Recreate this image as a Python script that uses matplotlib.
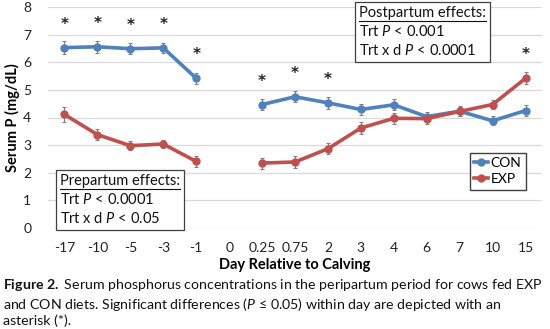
"""Serum phosphorus around calving, CON vs EXP diets."""

import matplotlib

matplotlib.use("Agg")

from matplotlib import pyplot as plt
from matplotlib.lines import Line2D
import numpy as np

plt.rcParams["font.family"] = ["Lato", "DejaVu Sans"]
plt.rcParams["mathtext.fontset"] = "custom"
plt.rcParams["mathtext.rm"] = "Lato"
plt.rcParams["mathtext.it"] = "Lato:italic"
plt.rcParams["mathtext.bf"] = "Lato:bold"

days = ["-17", "-10", "-5", "-3", "-1", "0", "0.25", "0.75", "2", "3", "4", "6", "7", "10", "15"]
# None at day 0 -> gap between pre- and postpartum
con = [6.53, 6.56, 6.49, 6.52, 5.42, None, 4.47, 4.75, 4.53, 4.29, 4.46, 4.03, 4.23, 3.88, 4.25]
con_se = [0.23, 0.21, 0.19, 0.17, 0.19, None, 0.21, 0.2, 0.21, 0.2, 0.2, 0.17, 0.17, 0.16, 0.2]
exp = [4.11, 3.38, 2.98, 3.04, 2.41, None, 2.35, 2.39, 2.87, 3.62, 3.97, 3.96, 4.22, 4.47, 5.42]
exp_se = [0.27, 0.19, 0.17, 0.15, 0.19, None, 0.2, 0.2, 0.2, 0.2, 0.2, 0.18, 0.15, 0.15, 0.21]
significant = ["-17", "-10", "-5", "-3", "-1", "0.25", "0.75", "2", "15"]

BLUE = "#4F81BD"
RED = "#C0504D"

x = np.arange(len(days))


def as_arr(vals):
    return np.array([np.nan if v is None else v for v in vals], dtype=float)


con_a, con_e = as_arr(con), as_arr(con_se)
exp_a, exp_e = as_arr(exp), as_arr(exp_se)

fig = plt.figure(figsize=(5.5, 3.29), dpi=100)
ax = fig.add_axes([48 / 550, 101 / 329, 494 / 550, 221 / 329])

for vals, err, color, label in [(con_a, con_e, BLUE, "CON"), (exp_a, exp_e, RED, "EXP")]:
    ax.errorbar(x, vals, yerr=err, fmt="none", ecolor="#808080", elinewidth=0.8, capsize=1.5, capthick=0.8, zorder=3)
    ax.plot(x, vals, color=color, linewidth=2.6, marker="o", markersize=5, label=label, zorder=4)

# asterisks above the higher mean on significant days
for d in significant:
    i = days.index(d)
    top = np.nanmax([con_a[i], exp_a[i]])
    ax.text(i, top + 0.85, "*", ha="center", va="center", fontsize=11, fontweight="bold",
            family="DejaVu Sans", color="#222222")

ax.set_xlim(-0.5, len(days) - 0.5)
ax.set_ylim(0, 8)
ax.set_yticks(range(0, 9))
ax.set_xticks(x)
ax.set_xticklabels(days)
ax.tick_params(length=0, labelsize=10, colors="#222222")
ax.tick_params(axis="x", pad=10)
ax.tick_params(axis="y", pad=12)
ax.grid(axis="y", color="#D9D9D9", linewidth=0.9)
ax.set_axisbelow(True)
for s in ax.spines.values():
    s.set_visible(False)

ax.set_xlabel("Day Relative to Calving", fontsize=10.5, fontweight="bold", labelpad=3)
ax.set_ylabel("Serum P (mg/dL)", fontsize=10.5, fontweight="bold", labelpad=2)

handles = [
    Line2D([], [], color=BLUE, linewidth=2.6, marker="o", markersize=5),
    Line2D([], [], color=RED, linewidth=2.6, marker="o", markersize=5),
]
ax.legend(handles, ["CON", "EXP"], loc="upper left", bbox_to_anchor=(422 / 494, 1 - 146 / 221),
          fontsize=10, frameon=True, fancybox=False, edgecolor="#404040", framealpha=1,
          handlelength=1.0, handletextpad=0.2, borderpad=0.3, labelspacing=0.3, borderaxespad=0)

box = dict(boxstyle="square,pad=0.25", facecolor="white", edgecolor="#404040", linewidth=0.9)
titles = []
for (fx, fy), lines in [
    ((311 / 494, 1 + 1 / 221), ["Postpartum effects:", "Trt $\\it{P}$ < 0.001", "Trt x d $\\it{P}$ < 0.0001"]),
    ((12 / 494, 1 - 167 / 221), ["Prepartum effects:", "Trt $\\it{P}$ < 0.0001", "Trt x d $\\it{P}$ < 0.05"]),
]:
    t = ax.text(fx, fy, "\n".join(lines), transform=ax.transAxes, ha="left", va="top",
                fontsize=10.5, linespacing=1.35, bbox=box, zorder=6, color="#111111")
    titles.append((t, lines[0], fx, fy))

# underline the first line of each box
fig.canvas.draw()
renderer = fig.canvas.get_renderer()
inv = ax.transAxes.inverted()
for t, head, fx, fy in titles:
    probe = ax.text(fx, fy, head, transform=ax.transAxes, ha="left", va="top", fontsize=10.5)
    bb = probe.get_window_extent(renderer)
    probe.remove()
    (x0, y0), (x1, _) = inv.transform([[bb.x0, bb.y0 - 1], [bb.x1, bb.y0]])
    ax.plot([x0, x1], [y0, y0], transform=ax.transAxes, color="#111111", linewidth=0.8, zorder=7, clip_on=False)

caption = ("$\\bf{Figure\\ 2.}$ Serum phosphorus concentrations in the peripartum period for cows fed EXP\n"
           "and CON diets. Significant differences ($\\it{P}$ ≤ 0.05) within day are depicted with an\n"
           "asterisk (*).")
fig.text(3 / 550, 1 - 277 / 329, caption, ha="left", va="top", fontsize=10.2, linespacing=1.2, color="#111111")

fig.savefig("out.png", dpi=100)
